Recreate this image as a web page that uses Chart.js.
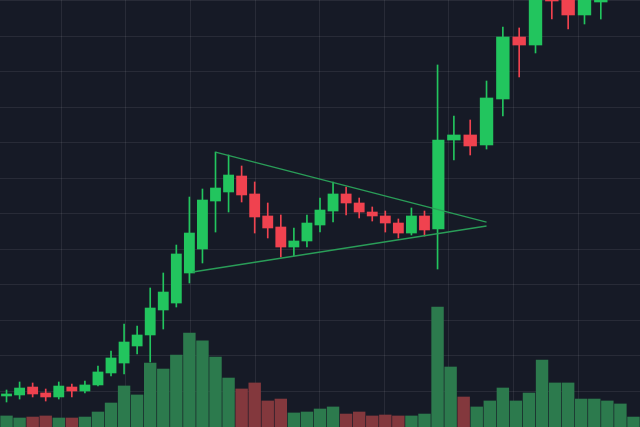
<!DOCTYPE html>
<html>
<head>
<meta charset="utf-8">
<script src="https://cdn.jsdelivr.net/npm/chart.js@4.4.1/dist/chart.umd.min.js"></script>
<style>
  html, body { margin: 0; padding: 0; background: #161a26; }
  #wrap { width: 640px; height: 427px; position: relative; }
</style>
</head>
<body>
<div id="wrap"><canvas id="myChart"></canvas></div>
<script>
// candle times (one volume period = 4 units)
var candleTime = [0, 4, 8, 12, 16, 20, 24, 28, 32, 36, 40, 44, 48, 52, 56, 60, 64, 68, 72, 76, 80, 84,
  88, 92, 96, 100, 104, 108, 112, 116, 120, 124, 128, 132, 137, 142, 147, 152, 157, 162, 167, 172, 177, 182];
var opens = [4.37, 4.51, 5.63, 4.79, 4.23, 5.63, 5.07, 5.92, 7.61, 9.01, 11.41, 12.96, 16.48, 17.46, 21.69,
  25.07, 31.83, 33.10, 35.35, 32.82, 29.72, 28.17, 25.35, 26.20, 28.45, 30.42, 32.82, 31.55, 30.28, 29.72,
  28.73, 27.32, 29.72, 27.89, 40.42, 41.13, 39.72, 46.20, 54.93, 53.80, 62.25, 60.85, 58.03, 59.86];
var highs = [5.21, 6.34, 6.20, 5.35, 6.34, 6.06, 6.48, 8.59, 10.70, 14.51, 14.23, 19.58, 21.69, 25.63, 32.39,
  33.52, 38.73, 38.31, 36.76, 34.51, 31.55, 29.86, 28.03, 29.86, 32.25, 34.51, 33.80, 32.25, 30.99, 30.42,
  29.30, 30.85, 30.42, 50.99, 43.80, 43.24, 48.73, 56.34, 56.20, 62.96, 63.24, 61.83, 61.55, 62.25];
var lows = [3.52, 3.94, 4.23, 3.66, 3.94, 4.23, 4.79, 5.77, 7.18, 7.46, 10.28, 9.15, 13.80, 16.90, 20.28,
  23.10, 27.46, 30.28, 31.69, 27.32, 26.62, 23.94, 24.08, 25.35, 27.46, 28.87, 29.86, 29.44, 29.01, 27.46,
  26.62, 27.04, 26.90, 22.25, 37.61, 38.31, 39.15, 43.80, 49.30, 52.68, 57.46, 56.06, 56.76, 57.46];
var closes = [4.65, 5.49, 4.65, 4.23, 5.77, 5.07, 5.92, 7.75, 9.72, 11.97, 12.96, 16.76, 19.01, 24.37, 27.32,
  31.97, 33.66, 35.49, 32.68, 29.58, 28.03, 25.35, 26.20, 28.73, 30.56, 32.82, 31.55, 30.28, 29.72, 28.73,
  27.32, 29.72, 27.75, 40.42, 41.13, 39.58, 46.34, 54.93, 53.80, 61.83, 60.00, 58.03, 60.56, 61.27];

var volumeTime = [0, 4, 8, 12, 16, 20, 24, 28, 32, 36, 40, 44, 48, 52, 56, 60, 64, 68, 72, 76, 80, 84, 88,
  92, 96, 100, 104, 108, 112, 116, 120, 124, 128, 132, 136, 140, 144, 148, 152, 156, 160, 164, 168, 172,
  176, 180, 184, 188, 192];
var volumes = [9.2, 7.5, 8.3, 9.2, 7.5, 7.5, 8.3, 12.5, 20, 34.2, 26.7, 53.3, 48.3, 60, 78.3, 71.7, 58.3,
  40.8, 31.7, 36.7, 21.7, 23.3, 11.7, 12.5, 15, 16.7, 10.8, 12.5, 9.2, 10, 9.2, 9.2, 10.8, 100, 50, 25,
  16.7, 21.7, 32.5, 21.7, 28.3, 55.8, 36.7, 36.7, 23.3, 23.3, 21.7, 19.2, 8.3];
var volumeUp = [1, 1, 0, 0, 1, 0, 1, 1, 1, 1, 1, 1, 1, 1, 1, 1, 1, 1, 0, 0, 0, 0, 1, 1, 1, 1, 0, 0, 0, 0,
  0, 1, 1, 1, 1, 0, 1, 1, 1, 1, 1, 1, 1, 1, 1, 1, 1, 1, 1];

// pennant lines
var triTopTime = [64, 147];
var triTopPrice = [38.73, 28.87];
var triBottomTime = [57, 147];
var triBottomPrice = [21.83, 28.31];

var GREEN = "#22c55e";
var RED = "#f0424f";

var bodies = [], wicks = [], candleColors = [];
candleTime.forEach(function (t, i) {
  bodies.push({ x: t, y: [opens[i], closes[i]] });
  wicks.push({ x: t, y: [lows[i], highs[i]] });
  candleColors.push(closes[i] >= opens[i] ? GREEN : RED);
});

var volumeData = volumeTime.map(function (t, i) {
  return { x: t, y: volumes[i] };
});
var volumeColors = volumeUp.map(function (u) {
  return u ? "#2c7a4d" : "#83383d";
});

new Chart("myChart", {
  data: {
    datasets: [
      {
        type: "line",
        data: triTopTime.map(function (t, i) { return { x: t, y: triTopPrice[i] }; }),
        borderColor: "#2a9d58",
        borderWidth: 1.3,
        pointRadius: 0,
        yAxisID: "y",
      },
      {
        type: "line",
        data: triBottomTime.map(function (t, i) { return { x: t, y: triBottomPrice[i] }; }),
        borderColor: "#2a9d58",
        borderWidth: 1.3,
        pointRadius: 0,
        yAxisID: "y",
      },
      {
        type: "bar",
        data: bodies,
        backgroundColor: candleColors,
        barThickness: "flex",
        categoryPercentage: 1,
        barPercentage: 0.78,
        yAxisID: "y",
      },
      {
        type: "bar",
        data: wicks,
        backgroundColor: candleColors,
        barThickness: 1,
        yAxisID: "y",
      },
      {
        type: "bar",
        data: volumeData,
        backgroundColor: volumeColors,
        barThickness: "flex",
        categoryPercentage: 1,
        barPercentage: 0.9,
        yAxisID: "yv",
      },
    ],
  },
  options: {
    responsive: true,
    maintainAspectRatio: false,
    animation: false,
    layout: { padding: 0 },
    plugins: { legend: { display: false }, tooltip: { enabled: false } },
    scales: {
      x: {
        type: "linear",
        min: -2,
        max: 194,
        offset: false,
        stacked: true,
        afterBuildTicks: function (axis) {
          var ticks = [];
          for (var v = 16.7; v < 194; v += 19.8) ticks.push({ value: v });
          axis.ticks = ticks;
        },
        ticks: { display: false },
        grid: { color: "rgba(255,255,255,0.08)", drawTicks: false, offset: false },
        border: { display: false },
      },
      y: {
        min: 0,
        max: 60.14,
        ticks: { display: false, stepSize: 5 },
        grid: { color: "rgba(255,255,255,0.08)", drawTicks: false },
        border: { display: false },
      },
      yv: {
        display: false,
        min: 0,
        max: 355.8,
      },
    },
  },
});
</script>
</body>
</html>
